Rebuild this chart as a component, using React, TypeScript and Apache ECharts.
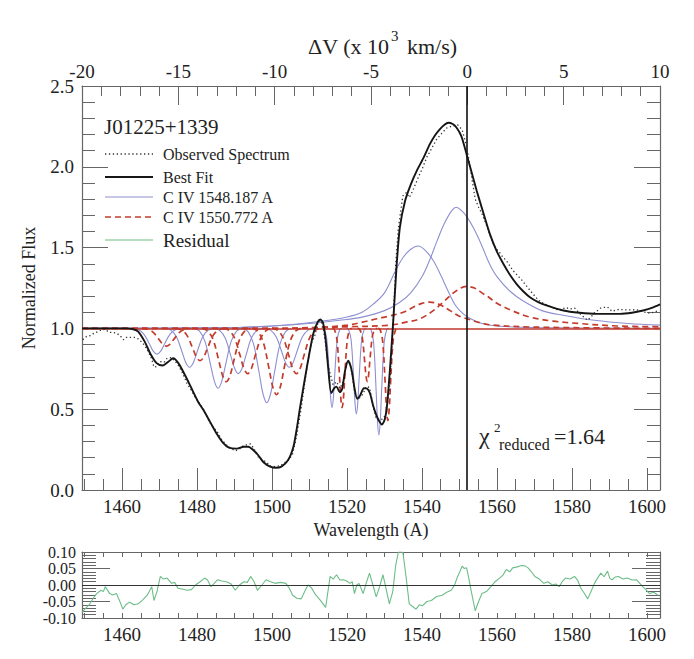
import React, { useEffect, useRef } from "react";
import * as echarts from "echarts";

// ---------- axes / reference values ----------
const waveMin = 1449.3;
const waveMax = 1603.5;
const majorWaveTicks = [1460, 1480, 1500, 1520, 1540, 1560, 1580, 1600];
const minorWaveTicks = [1450, 1455, 1465, 1470, 1475, 1485, 1490, 1495, 1505, 1510, 1515, 1525, 1530, 1535, 1545, 1550, 1555, 1565, 1570, 1575, 1585, 1590, 1595];
const velocityMin = -20;
const velocityMax = 10;
const systemicWave = 1552.0;
const continuumLevel = 1.0;
const chiSquaredReduced = "1.64";
const objectName = "J01225+1339";

// ---------- spectra ----------
const bestFit = [
  [1449.3, 1.0], [1456, 1.0], [1461, 1.0], [1463, 0.995], [1464.3, 0.98], [1466.1, 0.915], [1467.5, 0.845],
  [1469.2, 0.785], [1470.8, 0.77], [1472.4, 0.795], [1473.6, 0.815], [1475, 0.785], [1476.8, 0.71], [1478.6, 0.625],
  [1480.3, 0.545], [1481.7, 0.495], [1483.5, 0.42], [1485.2, 0.35], [1487.0, 0.29], [1488.5, 0.262], [1490.6, 0.256],
  [1492.5, 0.268], [1493.6, 0.268], [1495.9, 0.227], [1497.8, 0.17], [1499.5, 0.145], [1501, 0.138], [1502.5, 0.145],
  [1504.3, 0.185], [1505.7, 0.267], [1506.6, 0.38], [1507.5, 0.514], [1509.3, 0.761], [1511, 0.967], [1512.2, 1.04],
  [1512.9, 1.055], [1513.6, 1.035], [1514.3, 0.93], [1515.0, 0.75], [1515.8, 0.6], [1516.6, 0.63], [1517.2, 0.64],
  [1518.1, 0.605], [1518.7, 0.625], [1519.5, 0.74], [1520.3, 0.8], [1521.2, 0.745], [1522, 0.63], [1522.7, 0.565],
  [1523.5, 0.585], [1524.5, 0.63], [1525.3, 0.628], [1526.1, 0.6], [1527.0, 0.52], [1527.8, 0.465], [1528.6, 0.425],
  [1529.3, 0.405], [1530.1, 0.44], [1530.7, 0.53], [1531.5, 0.76], [1532.4, 1.07], [1533.2, 1.378], [1534.1, 1.625],
  [1535.5, 1.79], [1537, 1.89], [1538.6, 1.975], [1540.5, 2.06], [1542.1, 2.14], [1543.5, 2.195], [1544.8, 2.233],
  [1546, 2.26], [1547, 2.273], [1548.2, 2.265], [1549.2, 2.243], [1550.5, 2.19], [1551.9, 2.078], [1553.2, 1.97],
  [1554.6, 1.852], [1556.3, 1.72], [1558.1, 1.585], [1559.9, 1.48], [1561.7, 1.4], [1563.5, 1.33], [1565.2, 1.276],
  [1567, 1.23], [1568.8, 1.193], [1571, 1.163], [1573.2, 1.142], [1577.7, 1.111], [1582, 1.097], [1586.6, 1.09],
  [1592.8, 1.09], [1596, 1.097], [1599, 1.111], [1601.5, 1.128], [1603.5, 1.148],
];

const observed = [
  [1449.5, 0.93], [1450.5, 0.95], [1451.5, 0.955], [1452.5, 0.97], [1453.5, 0.98], [1454.5, 0.99], [1455.5, 0.995],
  [1456.5, 0.975], [1457.5, 0.975], [1458.5, 0.97], [1459.5, 0.955], [1460.3, 0.93], [1461.2, 0.945], [1462.2, 0.945],
  [1463.2, 0.945], [1464.3, 0.935], [1465.5, 0.91], [1466.7, 0.87], [1467.9, 0.81], [1468.5, 0.76], [1469.3, 0.765],
  [1470.2, 0.795], [1471.2, 0.79], [1472.0, 0.815], [1473.2, 0.82], [1474.0, 0.8], [1474.9, 0.775], [1476, 0.73],
  [1477.3, 0.66], [1478.5, 0.615], [1479.6, 0.57], [1480.8, 0.53], [1482, 0.49], [1482.9, 0.44], [1483.7, 0.405],
  [1484.6, 0.38], [1485.5, 0.355], [1486.6, 0.31], [1487.8, 0.28], [1489, 0.258], [1490.2, 0.242], [1491.4, 0.255],
  [1492.5, 0.278], [1493.4, 0.28], [1494.3, 0.285], [1495.2, 0.255], [1496.1, 0.21], [1497.3, 0.185], [1498.4, 0.175],
  [1499.6, 0.148], [1500.8, 0.145], [1502.2, 0.15], [1503.7, 0.175], [1504.6, 0.19], [1505.5, 0.225], [1506.6, 0.34],
  [1507.8, 0.51], [1508.7, 0.66], [1509.6, 0.8], [1510.5, 0.91], [1511.4, 0.955], [1512.3, 1.04], [1513.0, 1.05],
  [1513.6, 1.01], [1514.3, 0.9], [1515.0, 0.77], [1515.5, 0.72], [1516.3, 0.65], [1517.2, 0.67], [1518.1, 0.63],
  [1519, 0.67], [1519.9, 0.79], [1520.8, 0.785], [1521.4, 0.71], [1522, 0.61], [1522.6, 0.575], [1523.2, 0.565],
  [1524.3, 0.595], [1525.1, 0.64], [1526, 0.635], [1526.9, 0.53], [1527.8, 0.44], [1528.7, 0.435], [1529.6, 0.44],
  [1530.4, 0.47], [1531.3, 0.62], [1532.2, 0.98], [1533, 1.4], [1533.7, 1.62], [1534.9, 1.82], [1535.8, 1.84],
  [1536.6, 1.81], [1537.5, 1.85], [1538.4, 1.9], [1539.3, 1.95], [1540.1, 1.99], [1541.3, 2.06], [1542.5, 2.11],
  [1543.9, 2.17], [1545.4, 2.21], [1546.6, 2.24], [1547.8, 2.25], [1548.7, 2.255], [1549.5, 2.26], [1550.7, 2.23],
  [1551.9, 2.13], [1553.1, 1.96], [1554.2, 1.8], [1555.1, 1.75], [1556, 1.71], [1557.2, 1.64], [1558.4, 1.56],
  [1559.5, 1.5], [1560.7, 1.47], [1561.6, 1.44], [1562.5, 1.42], [1564.2, 1.36], [1565.4, 1.33], [1566.6, 1.3],
  [1568.3, 1.25], [1570.1, 1.2], [1571.3, 1.17], [1572.5, 1.153], [1574.8, 1.13], [1576.6, 1.11], [1578.3, 1.129],
  [1579.5, 1.12], [1580.7, 1.126], [1582.4, 1.085], [1584.2, 1.051], [1585.1, 1.07], [1586, 1.096], [1587.7, 1.126],
  [1588.6, 1.13], [1589.5, 1.132], [1590.7, 1.106], [1592.4, 1.117], [1594.8, 1.114], [1597.2, 1.116], [1598.9, 1.103],
  [1600.7, 1.094], [1602, 1.1], [1603.3, 1.114],
];

const residual = [
  [1449.3, -0.083], [1450.3, -0.07], [1451.4, -0.057], [1452.3, -0.04], [1453.2, -0.026], [1454.4, -0.016], [1455.0, -0.02],
  [1455.5, -0.005], [1456.7, -0.026], [1457.5, -0.03], [1458.5, -0.026], [1459.4, -0.05], [1460.2, -0.073], [1461.0, -0.06],
  [1462, -0.052], [1463.2, -0.06], [1464.3, -0.057], [1465.5, -0.045], [1466.7, -0.031], [1467.9, -0.005], [1468.5, -0.047],
  [1469.3, -0.02], [1470.2, 0.026], [1471, 0.018], [1472, 0.021], [1473.2, 0.005], [1474.0, 0.008], [1474.9, -0.01],
  [1476, -0.012], [1477.3, -0.016], [1478.5, -0.014], [1479.6, 0], [1480.8, 0.01], [1482, 0.021], [1482.8, 0.015],
  [1483.7, -0.005], [1484.5, 0.004], [1485.5, 0.016], [1486.6, 0.012], [1487.8, 0.01], [1489, 0.004], [1490.2, -0.016],
  [1491.3, 0.0], [1492.5, 0.01], [1493.4, 0.008], [1494.3, 0.026], [1495.2, 0.01], [1496.1, -0.016], [1497.3, 0.0],
  [1498.4, 0.016], [1499.6, 0.01], [1500.8, 0.005], [1502.2, 0.008], [1503.7, 0.005], [1504.6, -0.01], [1505.5, -0.031],
  [1506.6, -0.04], [1507.8, -0.042], [1508.7, -0.02], [1509.6, 0], [1510.5, -0.008], [1511.4, -0.026], [1512.8, -0.045],
  [1514.3, -0.068], [1515.5, 0.026], [1516.3, 0.018], [1517.2, 0.031], [1518.1, 0.015], [1519, 0.016], [1519.9, 0.012],
  [1520.8, 0.005], [1521.4, 0.01], [1522, -0.026], [1522.6, 0.0], [1523.2, 0.005], [1524.3, -0.026], [1525.1, 0.005],
  [1526, 0.036], [1526.9, 0.0], [1527.8, -0.036], [1528.7, -0.005], [1529.6, 0.031], [1530.4, -0.01], [1531.3, -0.057],
  [1532.2, -0.02], [1533.0, 0.06], [1533.7, 0.1], [1534.9, 0.1], [1535.8, 0.02], [1536.6, -0.057], [1537.5, -0.065],
  [1538.4, -0.073], [1539.3, -0.06], [1540.1, -0.063], [1541.3, -0.05], [1542.5, -0.047], [1543.9, -0.035], [1545.4, -0.031],
  [1546.6, -0.022], [1547.8, -0.016], [1548.7, 0.0], [1549.5, 0.026], [1550.1, 0.04], [1550.7, 0.057], [1551.3, 0.05],
  [1551.9, 0.052], [1552.5, 0.02], [1553.1, -0.016], [1554.2, -0.078], [1555.1, -0.05], [1556, -0.026], [1557.2, -0.02],
  [1558.4, -0.005], [1559.5, 0.01], [1560.7, 0.021], [1561.6, 0.03], [1562.5, 0.047], [1563.4, 0.04], [1564.2, 0.052],
  [1565.4, 0.055], [1566.6, 0.059], [1567.5, 0.058], [1568.3, 0.052], [1569.2, 0.04], [1570.1, 0.026], [1571.3, 0.018],
  [1572.5, 0.005], [1573.6, 0.01], [1574.8, 0], [1575.7, 0.003], [1576.6, -0.005], [1577.4, 0.01], [1578.3, 0.021],
  [1579.5, 0.018], [1580.7, 0.026], [1581.5, 0.015], [1582.4, -0.01], [1583.3, -0.025], [1584.2, -0.042], [1585.1, -0.02],
  [1586, 0.005], [1586.8, 0.02], [1587.7, 0.036], [1588.6, 0.025], [1589.5, 0.042], [1590.1, 0.02], [1590.7, 0.016],
  [1591.5, 0.024], [1592.4, 0.026], [1593.6, 0.018], [1594.8, 0.021], [1596, 0.015], [1597.2, 0.016], [1598.1, 0.005],
  [1598.9, -0.005], [1599.8, -0.015], [1600.7, -0.026], [1601.8, -0.022], [1603, -0.031],
];

// ---------- C IV 1548.187 components (blue) ----------
const blueTrough1 = [[1462.8, 1], [1464.3, 0.993], [1465.8, 0.965], [1467.3, 0.903], [1468.3, 0.859], [1469.3, 0.84], [1470.3, 0.859], [1471.3, 0.903], [1472.8, 0.965], [1474.3, 0.993], [1475.8, 1]];
const blueTrough2 = [[1471.5, 1], [1473, 0.989], [1474.5, 0.948], [1476, 0.854], [1477, 0.788], [1478, 0.76], [1479, 0.788], [1480, 0.854], [1481.5, 0.948], [1483, 0.989], [1484.5, 1]];
const blueTrough3 = [[1479.1, 1], [1480.6, 0.984], [1482.1, 0.92], [1483.6, 0.775], [1484.6, 0.674], [1485.6, 0.63], [1486.6, 0.674], [1487.6, 0.775], [1489.1, 0.92], [1490.6, 0.984], [1492.1, 1]];
const blueTrough4 = [[1484.5, 1], [1486, 0.988], [1487.5, 0.94], [1489, 0.83], [1490, 0.753], [1491, 0.72], [1492, 0.753], [1493, 0.83], [1494.5, 0.94], [1496, 0.988], [1497.5, 1]];
const blueTrough5 = [[1492.1, 1], [1493.6, 0.98], [1495.1, 0.901], [1496.6, 0.721], [1497.6, 0.594], [1498.6, 0.54], [1499.6, 0.594], [1500.6, 0.721], [1502.1, 0.901], [1503.6, 0.98], [1505.1, 1]];
const blueTrough6 = [[1498.1, 1], [1499.6, 0.989], [1501.1, 0.948], [1502.6, 0.854], [1503.6, 0.788], [1504.6, 0.76], [1505.6, 0.788], [1506.6, 0.854], [1508.1, 0.948], [1509.6, 0.989], [1511.1, 1]];
const blueNarrow1 = [[1513.4, 1], [1513.9, 0.995], [1514.6, 0.934], [1515.3, 0.703], [1515.65, 0.568], [1516.0, 0.51], [1516.35, 0.568], [1516.7, 0.703], [1517.4, 0.934], [1518.1, 0.995], [1518.6, 1]];
const blueNarrow2 = [[1519.9, 1], [1520.4, 0.994], [1521.1, 0.928], [1521.8, 0.678], [1522.15, 0.533], [1522.5, 0.47], [1522.85, 0.533], [1523.2, 0.678], [1523.9, 0.928], [1524.6, 0.994], [1525.1, 1]];
const blueNarrow3 = [[1525.9, 1], [1526.4, 0.993], [1527.1, 0.911], [1527.8, 0.599], [1528.15, 0.418], [1528.5, 0.34], [1528.85, 0.418], [1529.2, 0.599], [1529.9, 0.911], [1530.6, 0.993], [1531.1, 1]];
const blueEmission1 = [[1449.3, 1.0], [1490, 1.005], [1500, 1.015], [1508, 1.03], [1515, 1.05], [1520, 1.07], [1524, 1.1], [1527, 1.15], [1530, 1.22], [1533, 1.36], [1535, 1.44], [1537, 1.49], [1539, 1.51], [1541, 1.48], [1543, 1.42], [1545, 1.33], [1547, 1.23], [1549, 1.14], [1551, 1.09], [1553, 1.06], [1556, 1.03], [1560, 1.015], [1570, 1.005], [1603.5, 1.0]];
const blueEmission2 = [[1449.3, 1.0], [1490, 1.005], [1500, 1.015], [1510, 1.03], [1518, 1.05], [1524, 1.07], [1530, 1.11], [1534, 1.16], [1537, 1.22], [1540, 1.32], [1542, 1.42], [1544, 1.54], [1546, 1.65], [1548, 1.73], [1549.2, 1.75], [1550.5, 1.73], [1552, 1.69], [1554, 1.61], [1556, 1.51], [1558, 1.4], [1560, 1.32], [1563.5, 1.23], [1567, 1.17], [1572, 1.11], [1578, 1.08], [1586, 1.05], [1595, 1.03], [1603.5, 1.02]];

// ---------- C IV 1550.772 components (red) ----------
const redTrough1 = [[1465.3, 1], [1466.8, 0.995], [1468.3, 0.976], [1469.8, 0.933], [1470.8, 0.903], [1471.8, 0.89], [1472.8, 0.903], [1473.8, 0.933], [1475.3, 0.976], [1476.8, 0.995], [1478.3, 1]];
const redTrough2 = [[1474.3, 1], [1475.8, 0.991], [1477.3, 0.957], [1478.8, 0.879], [1479.8, 0.824], [1480.8, 0.8], [1481.8, 0.824], [1482.8, 0.879], [1484.3, 0.957], [1485.8, 0.991], [1487.3, 1]];
const redTrough3 = [[1481.3, 1], [1482.8, 0.985], [1484.3, 0.929], [1485.8, 0.8], [1486.8, 0.709], [1487.8, 0.67], [1488.8, 0.709], [1489.8, 0.8], [1491.3, 0.929], [1492.8, 0.985], [1494.3, 1]];
const redTrough4 = [[1487, 1], [1488.5, 0.988], [1490, 0.94], [1491.5, 0.83], [1492.5, 0.753], [1493.5, 0.72], [1494.5, 0.753], [1495.5, 0.83], [1497, 0.94], [1498.5, 0.988], [1500, 1]];
const redTrough5 = [[1494.7, 1], [1496.2, 0.982], [1497.7, 0.911], [1499.2, 0.751], [1500.2, 0.638], [1501.2, 0.59], [1502.2, 0.638], [1503.2, 0.751], [1504.7, 0.911], [1506.2, 0.982], [1507.7, 1]];
const redTrough6 = [[1500, 1], [1501.5, 0.988], [1503, 0.94], [1504.5, 0.83], [1505.5, 0.753], [1506.5, 0.72], [1507.5, 0.753], [1508.5, 0.83], [1510, 0.94], [1511.5, 0.988], [1513, 1]];
const redNarrow1 = [[1516.1, 1], [1516.6, 0.995], [1517.3, 0.934], [1518.0, 0.703], [1518.35, 0.568], [1518.7, 0.51], [1519.05, 0.568], [1519.4, 0.703], [1520.1, 0.934], [1520.8, 0.995], [1521.3, 1]];
const redNarrow2 = [[1522.8, 1], [1523.3, 0.996], [1524.0, 0.955], [1524.7, 0.8], [1525.05, 0.709], [1525.4, 0.67], [1525.75, 0.709], [1526.1, 0.8], [1526.8, 0.955], [1527.5, 0.996], [1528.0, 1]];
const redNarrow3 = [[1528.3, 1], [1528.8, 0.994], [1529.5, 0.923], [1530.2, 0.654], [1530.55, 0.497], [1530.9, 0.43], [1531.25, 0.497], [1531.6, 0.654], [1532.3, 0.923], [1533.0, 0.994], [1533.5, 1]];
const redEmission1 = [[1449.3, 1.0], [1500, 1.0], [1515, 1.01], [1520, 1.02], [1524.4, 1.04], [1528, 1.06], [1531, 1.075], [1535, 1.1], [1538, 1.135], [1540, 1.155], [1542, 1.163], [1544.5, 1.15], [1547.5, 1.11], [1550, 1.075], [1552, 1.06], [1555.5, 1.035], [1559, 1.02], [1570, 1.008], [1603.5, 1.0]];
const redEmission2 = [[1449.3, 1.0], [1500, 1.0], [1520, 1.01], [1531.5, 1.02], [1536, 1.04], [1539.5, 1.06], [1543, 1.11], [1546, 1.17], [1549, 1.23], [1551.8, 1.26], [1554, 1.25], [1556, 1.22], [1558, 1.19], [1560, 1.155], [1564, 1.11], [1568.8, 1.07], [1575, 1.045], [1582, 1.03], [1592, 1.015], [1603.5, 1.01]];

const blueComponents = [blueEmission1, blueEmission2, blueTrough1, blueTrough2, blueTrough3, blueTrough4, blueTrough5, blueTrough6, blueNarrow1, blueNarrow2, blueNarrow3];
const redComponents = [redEmission1, redEmission2, redTrough1, redTrough2, redTrough3, redTrough4, redTrough5, redTrough6, redNarrow1, redNarrow2, redNarrow3];

// ---------- styling ----------
const FONT = '"Liberation Serif", "DejaVu Serif", serif';
const INK = "#222";
const FRAME = "#666";
const BLUE = "#8d8fd0";
const RED = "#c43b2c";
const GREEN = "#6dbd88";

export default function App() {
  const ref = useRef<HTMLDivElement>(null);

  useEffect(() => {
    if (!ref.current) return;
    const chart = echarts.init(ref.current, null, { renderer: "svg" });

    const labelStyle = { fontFamily: FONT, fontSize: 19, color: INK };
    const frameLine = { show: true, onZero: false, lineStyle: { color: FRAME, width: 1.2 } };
    const tickLine = { color: FRAME, width: 1 };
    const plain = (v: number) => String(v);

    const series: any[] = [];
    blueComponents.forEach((d) =>
      series.push({
        type: "line", xAxisIndex: 0, yAxisIndex: 0, data: d, showSymbol: false, smooth: 0.35,
        lineStyle: { color: BLUE, width: 1.1 }, silent: true, z: 2,
      })
    );
    redComponents.forEach((d) =>
      series.push({
        type: "line", xAxisIndex: 0, yAxisIndex: 0, data: d, showSymbol: false, smooth: 0.35,
        lineStyle: { color: RED, width: 1.7, type: [6, 4] }, silent: true, z: 3,
      })
    );
    series.push({
      type: "line", xAxisIndex: 0, yAxisIndex: 0, data: observed, showSymbol: false,
      lineStyle: { color: "#333", width: 1.3, type: [1.3, 2.6] }, silent: true, z: 5,
    });
    series.push({
      type: "line", xAxisIndex: 0, yAxisIndex: 0, data: bestFit, showSymbol: false, smooth: 0.25,
      lineStyle: { color: "#161616", width: 1.9 }, silent: true, z: 6,
      markLine: {
        silent: true, symbol: ["none", "none"], label: { show: false },
        data: [
          { yAxis: continuumLevel, lineStyle: { color: "#c0392b", width: 1.6, type: "solid" } },
          { xAxis: systemicWave, lineStyle: { color: "#111", width: 1.6, type: "solid" } },
        ],
      },
    });
    series.push({
      type: "line", xAxisIndex: 3, yAxisIndex: 2, data: residual, showSymbol: false,
      lineStyle: { color: GREEN, width: 1.1 }, silent: true, z: 4,
      markLine: {
        silent: true, symbol: ["none", "none"], label: { show: false },
        data: [{ yAxis: 0, lineStyle: { color: "#333", width: 1, type: "solid" } }],
      },
    });

    const legendRows = [
      { y: 154, label: "Observed Spectrum", color: "#333", width: 1.3, dash: [1.3, 2.6], size: 16 },
      { y: 177, label: "Best Fit", color: "#161616", width: 1.9, dash: null, size: 16 },
      { y: 197, label: "C IV 1548.187 A", color: BLUE, width: 1.1, dash: null, size: 16 },
      { y: 217, label: "C IV 1550.772 A", color: RED, width: 1.7, dash: [6, 4], size: 16 },
      { y: 240, label: "Residual", color: GREEN, width: 1.1, dash: null, size: 19 },
    ];

    const txt = (x: number, y: number, text: string, size: number, align = "left") => ({
      type: "text", x, y,
      style: { text, font: `${size}px ${FONT}`, fill: INK, align, verticalAlign: "middle", textAlign: align, textVerticalAlign: "middle" },
    });

    const graphics: any[] = [
      txt(104, 127, objectName, 21),
      ...legendRows.flatMap((r) => [
        {
          type: "line", shape: { x1: 105, y1: r.y, x2: 153, y2: r.y },
          style: { stroke: r.color, lineWidth: r.width, lineDash: r.dash || undefined },
        },
        txt(163, r.y, r.label, r.size),
      ]),
      txt(389, 46, "\u0394V (x 10", 22, "right"),
      txt(391, 36, "3", 15),
      txt(407, 46, "km/s)", 22),
      txt(479, 436, "\u03c7", 24),
      txt(494, 427, "2", 13),
      txt(499, 444, "reduced", 16),
      txt(554, 436, "=" + chiSquaredReduced, 22),
    ];

    chart.setOption({
      animation: false,
      backgroundColor: "#fff",
      grid: [
        { left: 82, top: 86, width: 578, height: 404, containLabel: false },
        { left: 82, top: 552, width: 578, height: 66, containLabel: false },
      ],
      xAxis: [
        {
          gridIndex: 0, type: "value", position: "bottom", min: waveMin, max: waveMax,
          axisLine: frameLine,
          axisTick: { show: true, inside: true, length: 22, customValues: majorWaveTicks, lineStyle: tickLine },
          axisLabel: { ...labelStyle, customValues: majorWaveTicks, margin: 7, formatter: plain },
          splitLine: { show: false },
          name: "Wavelength (A)", nameLocation: "middle", nameGap: 25,
          nameTextStyle: { fontFamily: FONT, fontSize: 18, color: INK },
        },
        {
          gridIndex: 0, type: "value", position: "bottom", min: waveMin, max: waveMax,
          axisLine: { show: false },
          axisTick: { show: true, inside: true, length: 11, customValues: minorWaveTicks, lineStyle: tickLine },
          axisLabel: { show: false }, splitLine: { show: false },
        },
        {
          gridIndex: 0, type: "value", position: "top", min: velocityMin, max: velocityMax, interval: 5,
          axisLine: frameLine,
          axisTick: { show: true, inside: true, length: 19, lineStyle: tickLine },
          minorTick: { show: true, splitNumber: 5, length: 10, lineStyle: tickLine },
          axisLabel: { ...labelStyle, margin: 5, formatter: plain, showMinLabel: true, showMaxLabel: true },
          splitLine: { show: false },
        },
        {
          gridIndex: 1, type: "value", position: "bottom", min: waveMin, max: waveMax,
          axisLine: frameLine,
          axisTick: { show: true, inside: true, length: 5, customValues: minorWaveTicks.concat(majorWaveTicks), lineStyle: tickLine },
          axisLabel: { ...labelStyle, customValues: majorWaveTicks, margin: 7, formatter: plain },
          splitLine: { show: false },
        },
        {
          gridIndex: 1, type: "value", position: "top", min: waveMin, max: waveMax,
          axisLine: frameLine,
          axisTick: { show: true, inside: true, length: 5, customValues: minorWaveTicks.concat(majorWaveTicks), lineStyle: tickLine },
          axisLabel: { show: false }, splitLine: { show: false },
        },
      ],
      yAxis: [
        {
          gridIndex: 0, type: "value", position: "left", min: 0, max: 2.5, interval: 0.5,
          axisLine: frameLine,
          axisTick: { show: true, inside: true, length: 26, lineStyle: tickLine },
          minorTick: { show: true, splitNumber: 5, length: 13, lineStyle: tickLine },
          axisLabel: { ...labelStyle, margin: 8, formatter: (v: number) => v.toFixed(1), showMinLabel: true, showMaxLabel: true },
          splitLine: { show: false },
          name: "Normalized Flux", nameLocation: "middle", nameGap: 44, nameRotate: 90,
          nameTextStyle: { fontFamily: FONT, fontSize: 18, color: INK },
        },
        {
          gridIndex: 0, type: "value", position: "right", min: 0, max: 2.5, interval: 0.5,
          axisLine: frameLine,
          axisTick: { show: true, inside: true, length: 26, lineStyle: tickLine },
          minorTick: { show: true, splitNumber: 5, length: 13, lineStyle: tickLine },
          axisLabel: { show: false }, splitLine: { show: false },
        },
        {
          gridIndex: 1, type: "value", position: "left", min: -0.1, max: 0.1, interval: 0.05,
          axisLine: frameLine,
          axisTick: { show: true, inside: true, length: 28, lineStyle: tickLine },
          minorTick: { show: true, splitNumber: 5, length: 14, lineStyle: tickLine },
          axisLabel: {
            fontFamily: FONT, fontSize: 16, lineHeight: 16, color: INK, margin: 6,
            formatter: (v: number) => (Math.abs(v) < 1e-9 ? 0 : v).toFixed(2),
            showMinLabel: true, showMaxLabel: true, hideOverlap: false,
          },
          splitLine: { show: false },
        },
        {
          gridIndex: 1, type: "value", position: "right", min: -0.1, max: 0.1, interval: 0.05,
          axisLine: frameLine,
          axisTick: { show: true, inside: true, length: 28, lineStyle: tickLine },
          minorTick: { show: true, splitNumber: 5, length: 14, lineStyle: tickLine },
          axisLabel: { show: false }, splitLine: { show: false },
        },
      ],
      series,
      graphic: graphics,
    });

    return () => chart.dispose();
  }, []);

  return (
    <div
      ref={ref}
      style={{ position: "fixed", left: 0, top: 0, width: 694, height: 659, background: "#fff" }}
    />
  );
}
